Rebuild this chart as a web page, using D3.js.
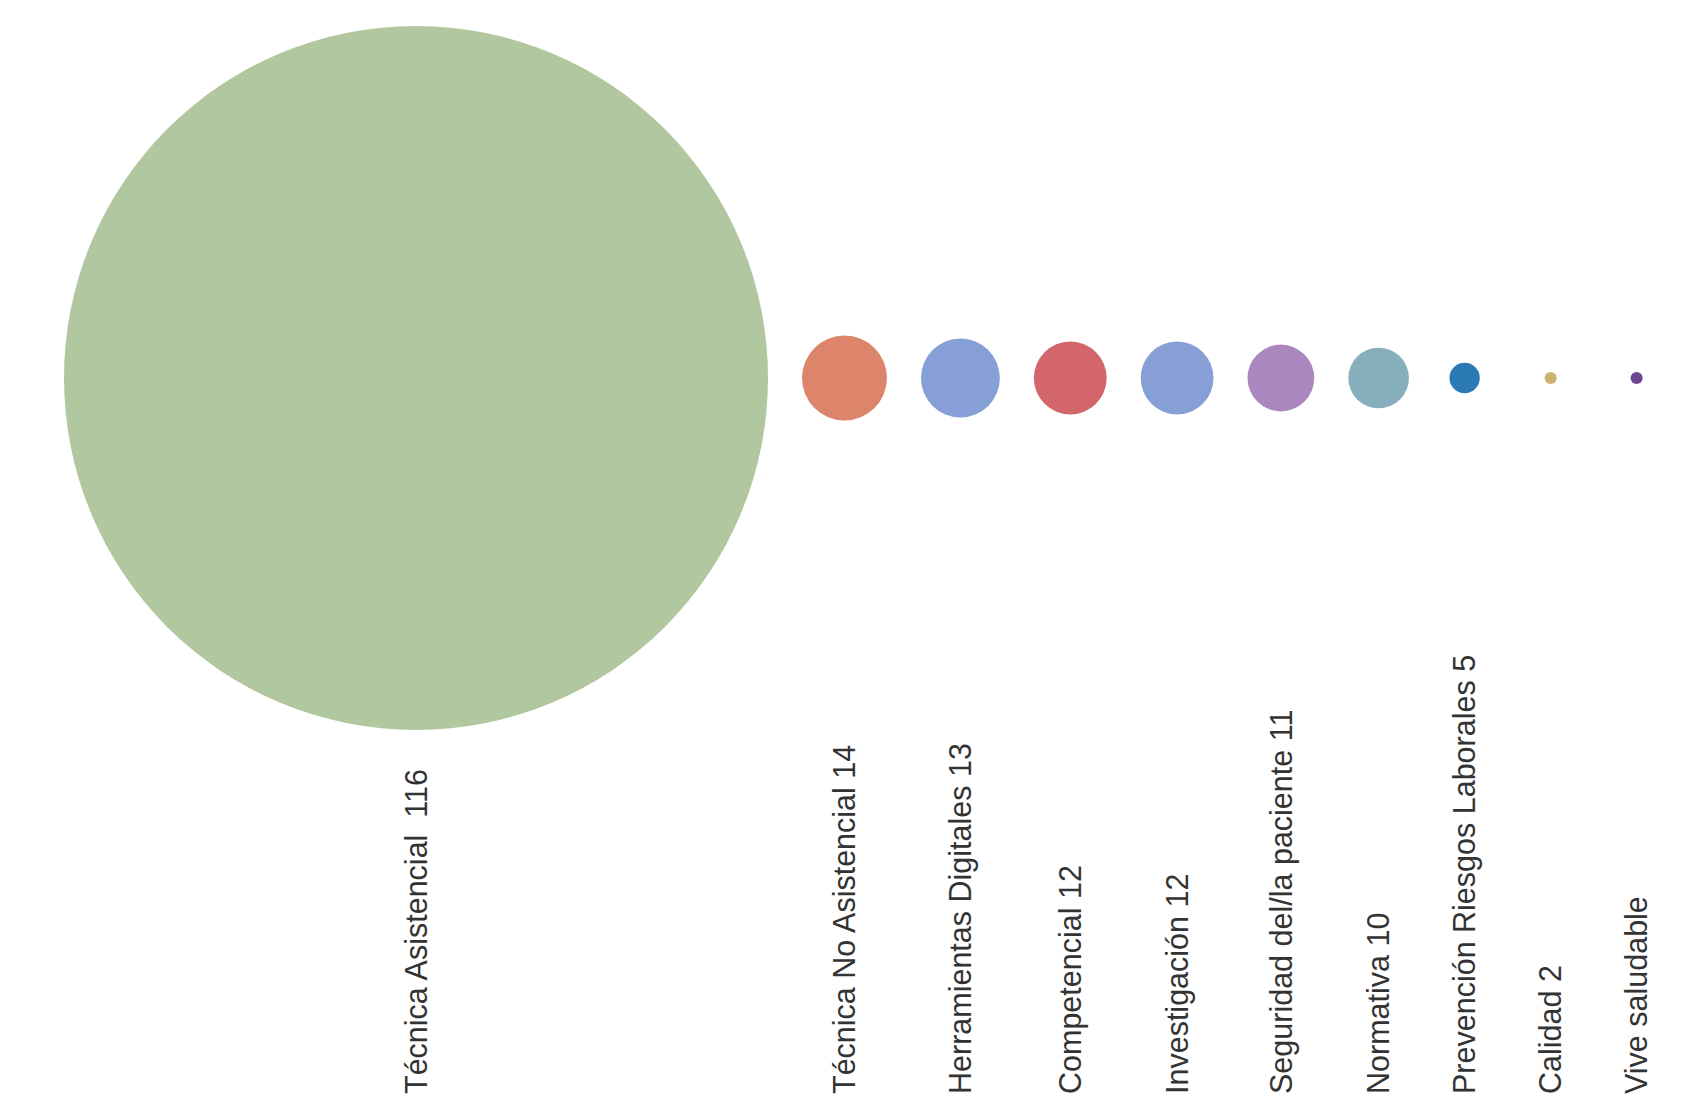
<!DOCTYPE html>
<html>
<head>
<meta charset="utf-8">
<script src="https://cdn.jsdelivr.net/npm/d3@7"></script>
<style>
  html, body { margin: 0; padding: 0; background: #ffffff; }
  svg { display: block; }
</style>
</head>
<body>
<svg id="chart"></svg>
<script>
// ---- data ----
const categories = [
  "Técnica Asistencial", "Técnica No Asistencial", "Herramientas Digitales",
  "Competencial", "Investigación", "Seguridad del/la paciente", "Normativa",
  "Prevención Riesgos Laborales", "Calidad", "Vive saludable"
];
const values = [116, 14, 13, 12, 12, 11, 10, 5, 2, 2];
const labels = [
  "Técnica Asistencial  116", "Técnica No Asistencial 14", "Herramientas Digitales 13",
  "Competencial 12", "Investigación 12", "Seguridad del/la paciente 11", "Normativa 10",
  "Prevención Riesgos Laborales 5", "Calidad 2", "Vive saludable"
];
const colors = [
  "#b0c7a0", "#dc856a", "#869fd6", "#d2666b", "#869fd6",
  "#aa87be", "#87afbb", "#2b7ab6", "#cab36e", "#6d4790"
];

// ---- layout ----
const W = 1708, H = 1120;
const cy = 378;
const left = 64;
const labelBase = 1094;
const pad = 34;        // gap between neighbouring circles
const minStep = 86;    // minimum centre distance so labels keep apart

const svg = d3.select("#chart").attr("width", W).attr("height", H);

const r = d3.scaleLinear().domain([0, d3.max(values)]).range([0, 352]);

// chain circles left to right
const pos = [0];
for (let i = 1; i < values.length; i++) {
  const step = Math.max(r(values[i - 1]) + r(values[i]) + pad, minStep);
  pos.push(pos[i - 1] + step);
}
const x = d3.scaleLinear().domain([0, 1]).range([left + r(values[0]), left + r(values[0]) + 1]);

const data = categories.map((c, i) => ({
  name: c, value: values[i], label: labels[i], color: colors[i], pos: pos[i]
}));

svg.append("g").selectAll("circle")
  .data(data)
  .join("circle")
  .attr("cx", d => x(d.pos))
  .attr("cy", cy)
  .attr("r", d => r(d.value))
  .attr("fill", d => d.color);

svg.append("g").selectAll("text")
  .data(data)
  .join("text")
  .attr("transform", d => `translate(${x(d.pos)},${labelBase}) rotate(-90)`)
  .attr("dy", "0.35em")
  .attr("text-anchor", "start")
  .style("font-family", "'Liberation Sans', Arial, Helvetica, sans-serif")
  .style("font-size", "30.5px")
  .style("fill", "#333333")
  .style("white-space", "pre")
  .attr("xml:space", "preserve")
  .text(d => d.label);
</script>
</body>
</html>
